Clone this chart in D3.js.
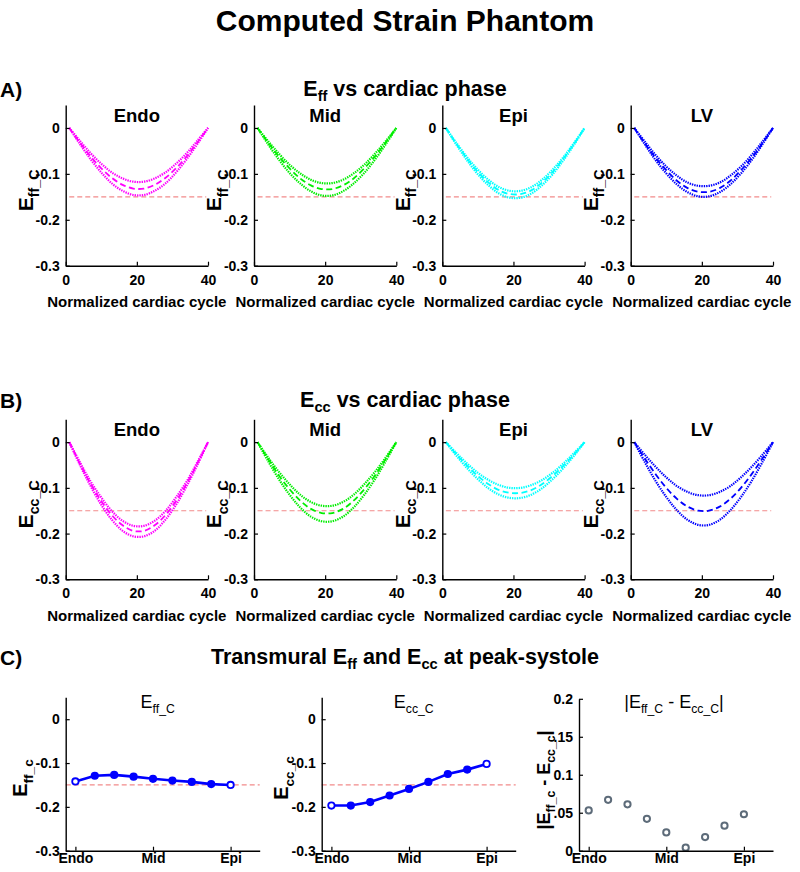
<!DOCTYPE html>
<html><head><meta charset="utf-8">
<script src="https://cdn.jsdelivr.net/npm/d3@7"></script>
<style>body{margin:0;background:#fff}</style>
</head><body><svg id="c" width="800" height="872"></svg>
<script>
// ---------- data ----------
const cycle = [1,4,7,10,13,16,19,22,25,28,31,34,37,40];
const cycleTicks = [0,20,40];
const strainTicks = [0,-0.1,-0.2,-0.3];
const strainTickLabels = ["0","-0.1","-0.2","-0.3"];
const refStrain = -0.15;
const regions = ["Endo","Mid","Epi","LV"];
const regionColors = ["#ff00ff","#00ee00","#00ffff","#0000ff"];

// E_ff per region: upper dotted, mean dashed, lower dotted
const effEndoUp  = [0,-0.028,-0.055,-0.078,-0.097,-0.110,-0.117,-0.117,-0.110,-0.097,-0.078,-0.055,-0.028,0];
const effEndoMid = [0,-0.032,-0.062,-0.088,-0.109,-0.124,-0.132,-0.132,-0.124,-0.109,-0.088,-0.062,-0.032,0];
const effEndoLo  = [0,-0.035,-0.068,-0.097,-0.121,-0.137,-0.146,-0.146,-0.137,-0.121,-0.097,-0.068,-0.035,0];
const effMidUp   = [0,-0.029,-0.056,-0.080,-0.099,-0.113,-0.120,-0.120,-0.113,-0.099,-0.080,-0.056,-0.029,0];
const effMidMid  = [0,-0.032,-0.062,-0.088,-0.110,-0.125,-0.133,-0.133,-0.125,-0.110,-0.088,-0.062,-0.032,0];
const effMidLo   = [0,-0.036,-0.069,-0.098,-0.121,-0.138,-0.147,-0.147,-0.138,-0.121,-0.098,-0.069,-0.036,0];
const effEpiUp   = [0,-0.033,-0.064,-0.091,-0.113,-0.129,-0.137,-0.137,-0.129,-0.113,-0.091,-0.064,-0.033,0];
const effEpiMid  = [0,-0.035,-0.067,-0.096,-0.119,-0.136,-0.144,-0.144,-0.136,-0.119,-0.096,-0.067,-0.035,0];
const effEpiLo   = [0,-0.037,-0.071,-0.101,-0.125,-0.143,-0.152,-0.152,-0.143,-0.125,-0.101,-0.071,-0.037,0];
const effLVUp    = [0,-0.030,-0.059,-0.084,-0.104,-0.119,-0.126,-0.126,-0.119,-0.104,-0.084,-0.059,-0.030,0];
const effLVMid   = [0,-0.034,-0.065,-0.092,-0.115,-0.131,-0.139,-0.139,-0.131,-0.115,-0.092,-0.065,-0.034,0];
const effLVLo    = [0,-0.036,-0.070,-0.099,-0.123,-0.140,-0.149,-0.149,-0.140,-0.123,-0.099,-0.070,-0.036,0];

// E_cc per region
const eccEndoUp  = [0,-0.044,-0.086,-0.121,-0.151,-0.172,-0.183,-0.183,-0.172,-0.151,-0.121,-0.086,-0.044,0];
const eccEndoMid = [0,-0.047,-0.091,-0.129,-0.160,-0.182,-0.194,-0.194,-0.182,-0.160,-0.129,-0.091,-0.047,0];
const eccEndoLo  = [0,-0.050,-0.096,-0.137,-0.170,-0.194,-0.206,-0.206,-0.194,-0.170,-0.137,-0.096,-0.050,0];
const eccMidUp   = [0,-0.034,-0.065,-0.092,-0.115,-0.131,-0.139,-0.139,-0.131,-0.115,-0.092,-0.065,-0.034,0];
const eccMidMid  = [0,-0.037,-0.073,-0.103,-0.128,-0.146,-0.155,-0.155,-0.146,-0.128,-0.103,-0.073,-0.037,0];
const eccMidLo   = [0,-0.042,-0.081,-0.115,-0.143,-0.163,-0.173,-0.173,-0.163,-0.143,-0.115,-0.081,-0.042,0];
const eccEpiUp   = [0,-0.024,-0.047,-0.067,-0.083,-0.094,-0.100,-0.100,-0.094,-0.083,-0.067,-0.047,-0.024,0];
const eccEpiMid  = [0,-0.027,-0.052,-0.074,-0.092,-0.105,-0.111,-0.111,-0.105,-0.092,-0.074,-0.052,-0.027,0];
const eccEpiLo   = [0,-0.030,-0.057,-0.081,-0.101,-0.115,-0.122,-0.122,-0.115,-0.101,-0.081,-0.057,-0.030,0];
const eccLVUp    = [0,-0.028,-0.054,-0.077,-0.096,-0.109,-0.116,-0.116,-0.109,-0.096,-0.077,-0.054,-0.028,0];
const eccLVMid   = [0,-0.036,-0.070,-0.100,-0.124,-0.141,-0.150,-0.150,-0.141,-0.124,-0.100,-0.070,-0.036,0];
const eccLVLo    = [0,-0.044,-0.085,-0.120,-0.149,-0.170,-0.181,-0.181,-0.170,-0.149,-0.120,-0.085,-0.044,0];

// transmural peak-systole values
const layer = [1,2,3,4,5,6,7,8,9];
const layerTicks = [1,5,9];
const layerTickLabels = ["Endo","Mid","Epi"];
const effPeak  = [-0.142,-0.129,-0.127,-0.131,-0.136,-0.140,-0.143,-0.148,-0.150];
const eccPeak  = [-0.197,-0.197,-0.189,-0.174,-0.159,-0.143,-0.125,-0.115,-0.102];
const diffPeak = [0.053,0.067,0.061,0.042,0.024,0.004,0.018,0.033,0.048];
const diffTicks = [0,0.05,0.1,0.15,0.2];
const diffTickLabels = ["0",".05","0.1",".15","0.2"];

const effSets = [[effEndoUp,effEndoMid,effEndoLo],[effMidUp,effMidMid,effMidLo],[effEpiUp,effEpiMid,effEpiLo],[effLVUp,effLVMid,effLVLo]];
const eccSets = [[eccEndoUp,eccEndoMid,eccEndoLo],[eccMidUp,eccMidMid,eccMidLo],[eccEpiUp,eccEpiMid,eccEpiLo],[eccLVUp,eccLVMid,eccLVLo]];

// ---------- drawing ----------
const FONT = "'Liberation Sans', Arial, Helvetica, sans-serif";
const svg = d3.select("#c");
svg.append("rect").attr("width",800).attr("height",872).attr("fill","#fff");

function richText(x, y, segs, size, opts) {
  opts = opts || {};
  const t = svg.append("text").attr("x",x).attr("y",y)
    .attr("font-size",size).attr("font-weight",opts.weight||"bold")
    .attr("text-anchor",opts.anchor||"middle").attr("font-family",FONT).attr("fill","#000");
  if (opts.rotate) t.attr("transform",`rotate(-90,${x},${y})`);
  const sh = size*(opts.shift||0.3);
  let shifted = false;
  segs.forEach(s => {
    const sub = s[1] === 1;
    const ts = t.append("tspan").text(s[0]);
    if (sub) { ts.attr("font-size", size*0.68); if (!shifted) { ts.attr("dy", sh); shifted = true; } }
    else if (shifted) { ts.attr("dy", -sh); shifted = false; }
  });
  return t;
}

function styleAxis(g, fs) {
  g.attr("font-size",fs).attr("font-weight","bold").attr("font-family",FONT);
  g.select(".domain").attr("stroke","#000").attr("stroke-width",1.4);
  g.selectAll(".tick line").attr("stroke","#000").attr("stroke-width",1.2);
  g.selectAll(".tick text").attr("fill","#000");
}

// main titles
richText(405, 31, [["Computed Strain Phantom",0]], 30);
richText(0, 97, [["A)",0]], 21, {anchor:"start"});
richText(405, 96, [["E",0],["ff",1],[" vs cardiac phase",0]], 21.5, {shift:0.25});
richText(0, 408, [["B)",0]], 21, {anchor:"start"});
richText(405, 407, [["E",0],["cc",1],[" vs cardiac phase",0]], 21.5, {shift:0.25});
richText(0, 665, [["C)",0]], 21, {anchor:"start"});
richText(405, 664, [["Transmural E",0],["ff",1],[" and E",0],["cc",1],[" at peak-systole",0]], 21.5, {shift:0.25});

const lefts = [65.7,254,442.3,630.7];
const pw = 142.3;

function strainPanel(i, top, bottom, sets, sub) {
  const left = lefts[i];
  const x = d3.scaleLinear().domain([0,40]).range([left,left+pw]);
  const y = d3.scaleLinear().domain([-0.3,0.05]).range([bottom,top]);
  const color = regionColors[i];
  // reference line
  svg.append("line").attr("x1",x(1)).attr("x2",x(39.5)).attr("y1",y(refStrain)).attr("y2",y(refStrain))
    .attr("stroke","#f28a8a").attr("stroke-width",1.2).attr("stroke-dasharray","5,3");
  const line = d3.line().x((d,k)=>x(cycle[k])).y(d=>y(d)).curve(d3.curveCatmullRom.alpha(0.5));
  sets.forEach((arr,j) => {
    svg.append("path").attr("d",line(arr)).attr("fill","none").attr("stroke",color)
      .attr("stroke-width", j===1 ? 1.8 : 2.2)
      .attr("stroke-dasharray", j===1 ? "6,3.5" : "1.4,1");
  });
  const gx = svg.append("g").attr("transform",`translate(0,${bottom})`)
    .call(d3.axisBottom(x).tickValues(cycleTicks).tickSize(-4).tickSizeOuter(0).tickPadding(9));
  styleAxis(gx, 14);
  const gy = svg.append("g").attr("transform",`translate(${left},0)`)
    .call(d3.axisLeft(y).tickValues(strainTicks).tickFormat((d,k)=>strainTickLabels[k]).tickSize(-4).tickSizeOuter(0).tickPadding(6));
  styleAxis(gy, 14);
  richText(left+pw/2, top+17, [[regions[i],0]], 18.5);
  richText(left+pw/2, bottom+41.5, [["Normalized cardiac cycle",0]], 15);
  richText(left-32.5, (top+bottom)/2+5, [["E",0],[sub,1]], 21, {rotate:true});
}

for (let i=0;i<4;i++) strainPanel(i, 105, 265.7, effSets[i], "ff_C");
for (let i=0;i<4;i++) strainPanel(i, 419.3, 579.3, eccSets[i], "cc_C");

// panel C
const cTop = 697.3, cBot = 850.7, cw = 194;
function lx(left){ return d3.scaleLinear().domain([0.5,10.5]).range([left,left+cw]); }

function peakPanel(left, vals, title, sub, labOff) {
  const x = lx(left);
  const y = d3.scaleLinear().domain([-0.3,0.05]).range([cBot,cTop]);
  svg.append("line").attr("x1",left).attr("x2",left+cw).attr("y1",y(refStrain)).attr("y2",y(refStrain))
    .attr("stroke","#f28a8a").attr("stroke-width",1.2).attr("stroke-dasharray","5,3");
  const line = d3.line().x((d,k)=>x(layer[k])).y(d=>y(d));
  svg.append("path").attr("d",line(vals)).attr("fill","none").attr("stroke","#0000ff").attr("stroke-width",2.6);
  svg.selectAll(null).data(vals).enter().append("circle")
    .attr("cx",(d,k)=>x(layer[k])).attr("cy",d=>y(d)).attr("r",3.2)
    .attr("fill",(d,k)=>(k===0||k===vals.length-1)?"#fff":"#0000ff")
    .attr("stroke","#0000ff").attr("stroke-width",1.8);
  const gx = svg.append("g").attr("transform",`translate(0,${cBot})`)
    .call(d3.axisBottom(x).tickValues(layerTicks).tickFormat((d,k)=>layerTickLabels[k]).tickSize(-4).tickSizeOuter(0).tickPadding(2));
  styleAxis(gx, 14);
  const gy = svg.append("g").attr("transform",`translate(${left},0)`)
    .call(d3.axisLeft(y).tickValues(strainTicks).tickFormat((d,k)=>strainTickLabels[k]).tickSize(-4).tickSizeOuter(0).tickPadding(6));
  styleAxis(gy, 14);
  richText(left+cw/2-5, 708, title, 18, {weight:"normal"});
  richText(left-labOff, (cTop+cBot)/2+4, [["E",0],[sub,1]], 20, {rotate:true});
}
peakPanel(65.7, effPeak, [["E",0],["ff_C",1]], "ff_c", 39);
peakPanel(321.7, eccPeak, [["E",0],["cc_C",1]], "cc_c", 34);

// diff panel
(function(){
  const left = 579;
  const x = lx(left);
  const y = d3.scaleLinear().domain([0,0.2]).range([cBot,cTop+1.5]);
  svg.selectAll(null).data(diffPeak).enter().append("circle")
    .attr("cx",(d,k)=>x(layer[k])).attr("cy",d=>y(d)).attr("r",3.1)
    .attr("fill","#fff").attr("stroke","#5d6b79").attr("stroke-width",2);
  const gx = svg.append("g").attr("transform",`translate(0,${cBot})`)
    .call(d3.axisBottom(x).tickValues(layerTicks).tickFormat((d,k)=>layerTickLabels[k]).tickSize(-4).tickSizeOuter(0).tickPadding(2));
  styleAxis(gx, 14);
  const gy = svg.append("g").attr("transform",`translate(${left},0)`)
    .call(d3.axisLeft(y).tickValues(diffTicks).tickFormat((d,k)=>diffTickLabels[k]).tickSize(-4).tickSizeOuter(0).tickPadding(6));
  styleAxis(gy, 14);
  richText(left+cw/2-2, 708, [["|E",0],["ff_C",1],[" - E",0],["cc_C",1],["|",0]], 18, {weight:"normal"});
  richText(left-29, (cTop+cBot)/2+6, [["|E",0],["ff_c",1],[" - E",0],["cc_c",1],["|",0]], 18, {rotate:true});
})();
</script>
</body></html>
